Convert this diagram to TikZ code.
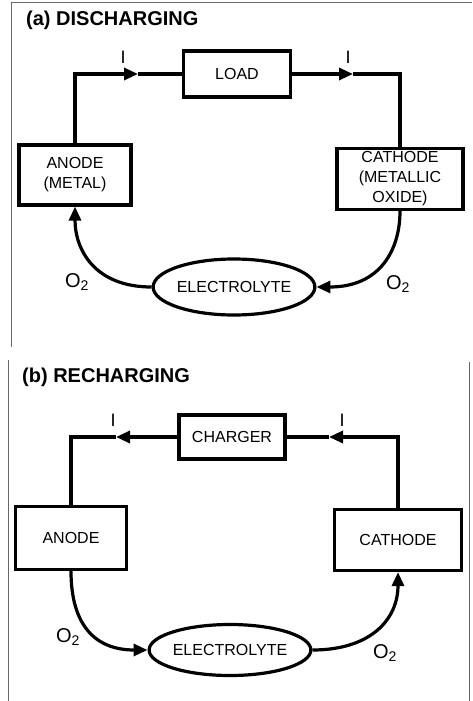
\documentclass[tikz,border=0pt]{standalone}
\usepackage{fontspec}
\setmainfont{Liberation Sans}
\usetikzlibrary{arrows.meta, shapes.geometric}
\tikzset{
  part/.style={rectangle, draw, line width=3.2pt, align=center, inner sep=2pt,
    font=\fontsize{16}{20}\selectfont},
  cell/.style={ellipse, draw, line width=3.2pt, inner sep=0pt,
    font=\fontsize{16}{20}\selectfont},
  wire/.style={line width=3.2pt},
  flow/.style={wire, -{Triangle[length=14pt, width=12pt]}},
  heading/.style={anchor=west, inner sep=0pt, font=\fontsize{20}{24}\selectfont\bfseries},
  cur/.style={inner sep=0pt, font=\fontsize{18}{20}\selectfont},
  gas/.style={inner sep=0pt, font=\fontsize{20}{22}\selectfont},
  frame/.style={line width=0.7pt, black!60},
}

\begin{document}
\begin{tikzpicture}[x=1pt, y=-1pt]
\useasboundingbox (0,0) rectangle (472,701);
% outer frame
\draw[frame] (472,2) -- (11,2) -- (11,347);
\draw[frame] (8,360) -- (8,701);
\draw[frame] (469,362) -- (469,701);

% (a) discharging
\node[heading] (titleA) at (26,20) {(a) DISCHARGING};
\node[part, minimum width=107, minimum height=46] (loadA) at (237,74) {LOAD};
\node[part, minimum width=112, minimum height=60] (anodeA) at (75,175) {ANODE\\(METAL)};
\node[part, minimum width=126, minimum height=61] (cathodeA) at (400,179) {CATHODE\\(METALLIC\\OXIDE)};
\node[cell, minimum width=141, minimum height=56] (elyteA) at (234,287) {ELECTROLYTE};
\coordinate (iA1) at (138,74);
\coordinate (iA2) at (353,74);
\draw[flow] (anodeA.north) |- (iA1);
\draw[wire] (iA1) -- (loadA.west);
\draw[flow] (loadA.east) -- (iA2);
\draw[wire] (iA2) -| (cathodeA.north);
\draw[flow] (elyteA.west) .. controls (95,287) and (75,250) .. (anodeA.south);
\draw[flow] (cathodeA.south) .. controls (400,250) and (380,287) .. (elyteA.east);
\node[cur] (curA1) at (123,57) {I};
\node[cur] (curA2) at (348,57) {I};
\node[gas] (gasA1) at (77,282) {O\textsubscript{2}};
\node[gas] (gasA2) at (398,284) {O\textsubscript{2}};

% (b) recharging
\node[heading] (titleB) at (22,377) {(b) RECHARGING};
\node[part, minimum width=106, minimum height=44] (chargerB) at (232,437) {CHARGER};
\node[part, minimum width=111, minimum height=63] (anodeB) at (71,538) {ANODE};
\node[part, minimum width=127, minimum height=61] (cathodeB) at (398,540) {CATHODE};
\node[cell, minimum width=142, minimum height=51] (elyteB) at (230,650) {ELECTROLYTE};
\coordinate (iB1) at (116,437);
\coordinate (iB2) at (329,437);
\draw[flow] (chargerB.west) -- (iB1);
\draw[wire] (iB1) -| (anodeB.north);
\draw[flow] (cathodeB.north) |- (iB2);
\draw[wire] (iB2) -- (chargerB.east);
\draw[flow] (anodeB.south) .. controls (71,625) and (95,650) .. (elyteB.west);
\draw[flow] (elyteB.east) .. controls (370,650) and (398,620) .. (cathodeB.south);
\node[cur] (curB1) at (113,420) {I};
\node[cur] (curB2) at (342,420) {I};
\node[gas] (gasB1) at (68,637) {O\textsubscript{2}};
\node[gas] (gasB2) at (385,653) {O\textsubscript{2}};
\end{tikzpicture}
\end{document}
